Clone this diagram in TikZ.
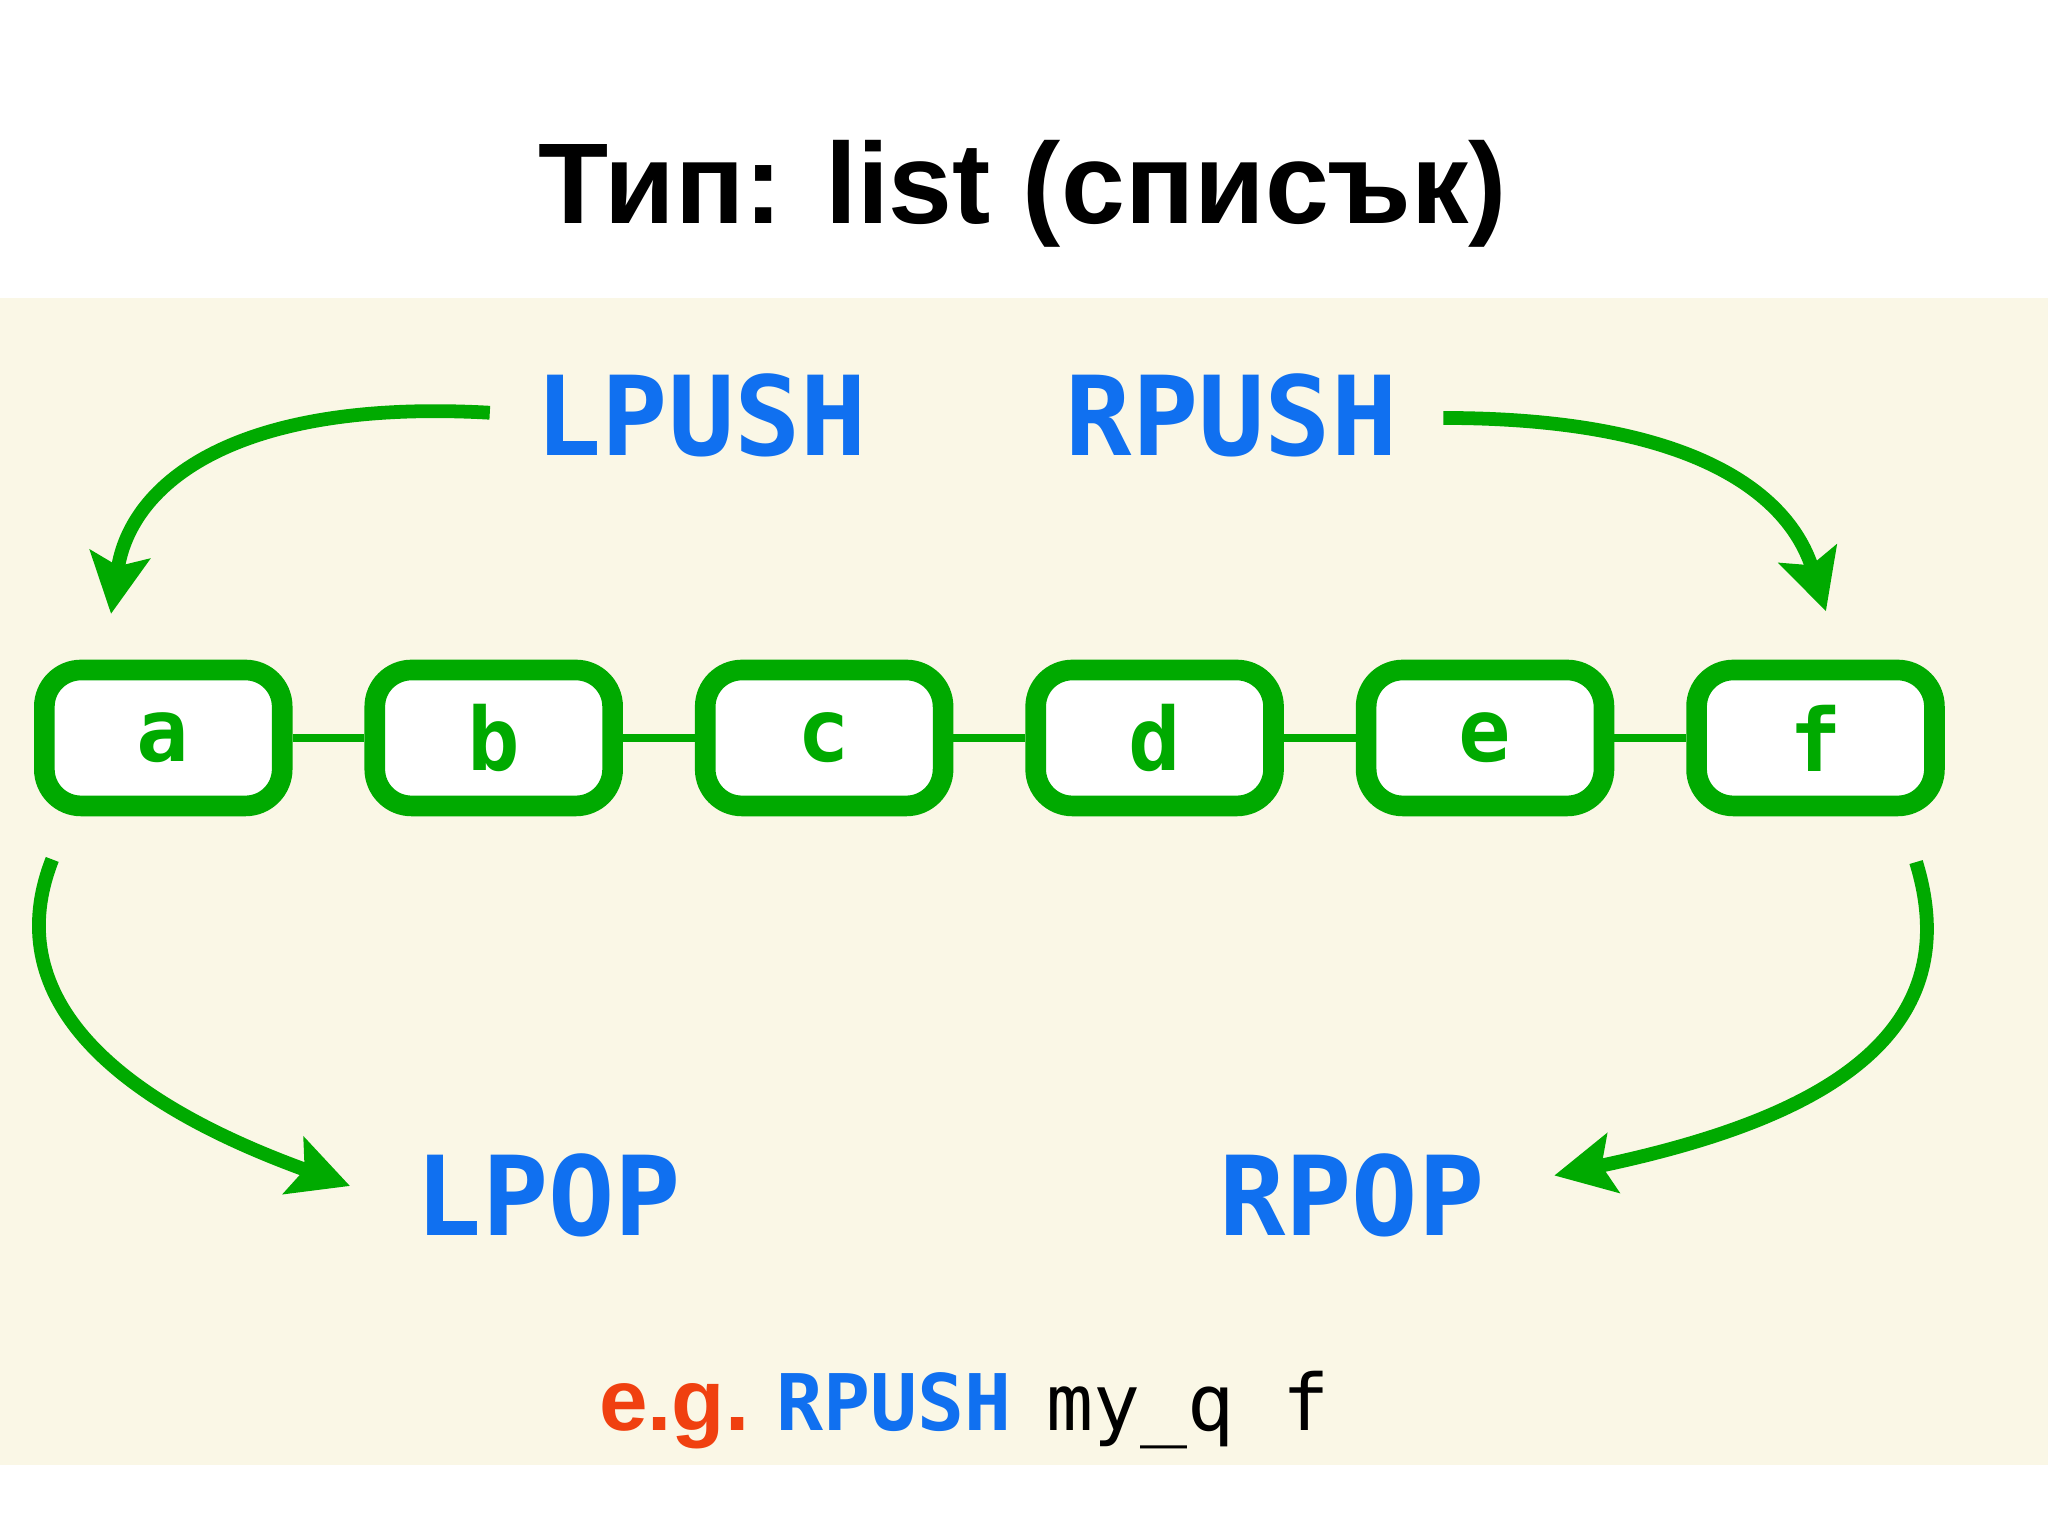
\documentclass[tikz,border=0pt]{standalone}
\usepackage{fontspec}
\setmainfont{Liberation Sans}
\newfontfamily\monob{DejaVu Sans Mono}
\usetikzlibrary{arrows.meta}
\definecolor{bg}{HTML}{FAF7E6}
\definecolor{grn}{HTML}{00AA00}
\definecolor{blu}{HTML}{1070F0}
\definecolor{org}{HTML}{F04010}
\begin{document}
\begin{tikzpicture}[x=0.01cm,y=-0.01cm,
  box/.style={draw=grn, line width=4.5pt, rounded corners=8pt, fill=white,
    minimum width=1.82cm, minimum height=1.04cm, text=grn,
    font=\monob\bfseries\fontsize{19}{19}\selectfont},
  cmd/.style={text=blu, font=\monob\bfseries\fontsize{24}{24}\selectfont},
  arr/.style={grn, line width=3pt, -{Stealth[length=13pt,width=13pt,inset=2.5pt]}}]
\useasboundingbox (0,0) rectangle (1568,1175);
\fill[bg] (0,228) rectangle (1568,1122);
\node (title) at (783,148) {\bfseries\fontsize{25}{25}\selectfont Тип: list (списък)};
\foreach \n/\x in {a/125,b/378,c/631,d/884,e/1137,f/1390}
  \node[box] (\n) at (\x,565) {\n};
\foreach \p/\q in {a/b,b/c,c/d,d/e,e/f}
  \draw[grn, line width=1.8pt] (\p) -- (\q);
\node[cmd] (lpush) at (537,318) {LPUSH};
\node[cmd] (rpush) at (943,318) {RPUSH};
\node[cmd] (lpop) at (420,915) {LPOP};
\node[cmd] (rpop) at (1035,915) {RPOP};
\coordinate (l1) at (375,316);
\coordinate (l2) at (85,470);
\coordinate (r1) at (1105,320);
\coordinate (r2) at (1398,468);
\coordinate (p1) at (40,658);
\coordinate (p2) at (268,908);
\coordinate (q1) at (1467,660);
\coordinate (q2) at (1190,900);
\draw[arr] (l1) .. controls (180,305) and (100,370) .. (l2);
\draw[arr] (r1) .. controls (1300,320) and (1370,380) .. (r2);
\draw[arr] (p1) .. controls (0,760) and (80,840) .. (p2);
\draw[arr] (q1) .. controls (1510,800) and (1380,860) .. (q2);
\node[anchor=base west, inner sep=0pt, font=\monob\bfseries\fontsize{17}{17}\selectfont] (eg) at (458,1095)
  {\textcolor{org}{\rmfamily\bfseries\fontsize{19}{19}\selectfont e.g.}\hspace{0.35em}\textcolor{blu}{RPUSH}\hspace{0.45em}{\mdseries my\_q f}};
\end{tikzpicture}
\end{document}
